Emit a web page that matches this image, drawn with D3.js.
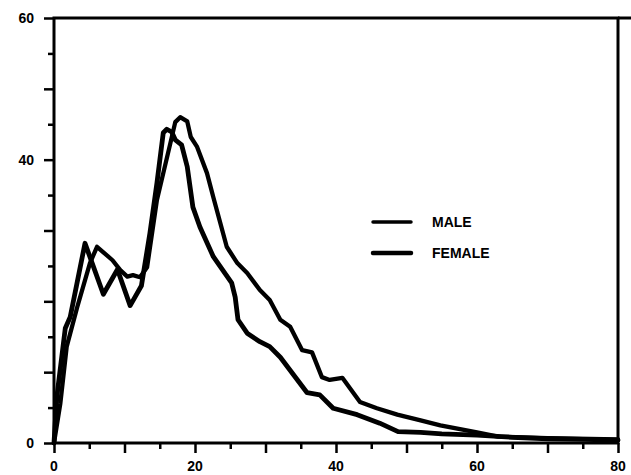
<!DOCTYPE html>
<html>
<head>
<meta charset="utf-8">
<script src="https://cdn.jsdelivr.net/npm/d3@7"></script>
<style>
  body { margin:0; background:#fff; }
  text { font-family: Arial, "Liberation Sans", sans-serif; font-weight:bold; fill:#000; }
</style>
</head>
<body>
<div id="chart"></div>
<script>
// age (x) and value (y)
var maleAge = [0,0.9,1.8,3.3,5.1,6.1,8.3,9.4,10.4,11.2,12.2,13.2,14.6,16.5,17.2,17.9,18.9,19.4,20.3,21.7,22.6,24.5,26,27.4,29.2,30.6,32.1,33.5,35.2,36.6,38,39.1,40.9,43.4,45.8,48.7,52,54.8,60,63,70,80];
var maleVal = [0,5.6,13.6,19.2,25.4,27.7,25.8,24.4,23.5,23.7,23.4,24.8,34.3,42.3,45.3,46,45.4,43.2,41.8,38.1,34.7,27.7,25.4,24,21.6,20.2,17.4,16.4,13.1,12.8,9.3,8.9,9.2,5.8,4.9,4.0,3.2,2.5,1.5,0.9,0.7,0.5];

var femaleAge = [0,0.4,1.6,2.3,4.4,7,9,10.8,12.4,13.6,14.6,15.5,16,16.7,17.2,18.1,18.9,19.7,20.7,22.6,25.2,25.7,26.1,27.4,29.2,30.6,32.1,35.9,37.7,39.6,43,46.2,48.8,52,55,60,65,70,75,80];
var femaleVal = [0,6.5,16.2,17.8,28.2,21,24.5,19.4,22.2,29.6,36.7,43.8,44.3,43.9,42.8,42.1,39,33.3,30.5,26.3,22.6,20.6,17.4,15.5,14.3,13.6,12.1,7.1,6.8,4.9,4.0,2.8,1.6,1.5,1.3,1.1,0.8,0.6,0.5,0.4];

var xLabels = [0,20,40,60,80];
var yLabels = [0,40,60];
var legendNames = ["MALE","FEMALE"];

var W = 631, H = 475;
var m = {t:18, r:13, b:32, l:54},
    w = W - m.l - m.r,
    h = H - m.t - m.b;

var svg = d3.select("#chart")
  .append("svg")
  .attr("width", W)
  .attr("height", H)
  .append("g")
  .attr("transform", "translate(" + m.l + "," + m.t + ")");

var scaleX = d3.scaleLinear().domain([0,80]).range([0,w]);
var scaleY = d3.scaleLinear().domain([0,60]).range([h,0]);

var minor = d3.range(5,80,10), major = d3.range(0,81,10);
var minorY = d3.range(5,60,10), majorY = d3.range(0,61,10);

// ticks: long on 10s, short on 5s
function tickAxis(axis, vals, size){
  return axis.tickValues(vals).tickSize(size).tickFormat("");
}

svg.append("g").attr("class","ax")
  .attr("transform","translate(0," + h + ")")
  .call(tickAxis(d3.axisBottom(scaleX), major, 10));
svg.append("g").attr("class","ax")
  .attr("transform","translate(0," + h + ")")
  .call(tickAxis(d3.axisBottom(scaleX), minor, 6));
svg.append("g").attr("class","ax")
  .call(tickAxis(d3.axisLeft(scaleY), majorY, 10));
svg.append("g").attr("class","ax")
  .call(tickAxis(d3.axisLeft(scaleY), minorY, 6));

svg.selectAll(".ax .domain").remove();
svg.selectAll(".ax line")
  .attr("stroke","#000")
  .attr("stroke-width",2.5);

// frame
svg.append("rect")
  .attr("x",0).attr("y",0)
  .attr("width",w).attr("height",h)
  .attr("fill","none")
  .attr("stroke","#000")
  .attr("stroke-width",3);
svg.append("line")
  .attr("x1",w).attr("x2",w + m.r)
  .attr("y1",0).attr("y2",0)
  .attr("stroke","#000")
  .attr("stroke-width",3);

svg.selectAll(".xl")
  .data(xLabels)
  .enter().append("text")
  .attr("class","xl")
  .attr("x", function(d){ return scaleX(d); })
  .attr("y", h + 28)
  .attr("text-anchor","middle")
  .attr("font-size","14px")
  .text(function(d){ return d; });

svg.selectAll(".yl")
  .data(yLabels)
  .enter().append("text")
  .attr("class","yl")
  .attr("x", -20)
  .attr("y", function(d){ return scaleY(d); })
  .attr("dy","0.35em")
  .attr("text-anchor","end")
  .attr("font-size","14px")
  .text(function(d){ return d; });

var line = d3.line()
  .x(function(d){ return scaleX(d[0]); })
  .y(function(d){ return scaleY(d[1]); });

var series = [
  {name:legendNames[0], pts:d3.zip(maleAge, maleVal), sw:4.3},
  {name:legendNames[1], pts:d3.zip(femaleAge, femaleVal), sw:4.8}
];

svg.selectAll(".curve")
  .data(series)
  .enter().append("path")
  .attr("class","curve")
  .attr("d", function(d){ return line(d.pts); })
  .attr("fill","none")
  .attr("stroke","#000")
  .attr("stroke-width", function(d){ return d.sw; })
  .attr("stroke-linejoin","round")
  .attr("stroke-linecap","round");

// legend
var leg = svg.selectAll(".leg")
  .data(series)
  .enter().append("g")
  .attr("class","leg")
  .attr("transform", function(d,i){ return "translate(" + (373 - m.l) + "," + (222 - m.t + i*31) + ")"; });

leg.append("line")
  .attr("x1",0).attr("x2",38)
  .attr("stroke","#000")
  .attr("stroke-width", function(d,i){ return i ? 4.5 : 3.5; })
  .attr("stroke-linecap","round");

leg.append("text")
  .attr("x",59)
  .attr("dy","0.36em")
  .attr("font-size","14px")
  .text(function(d){ return d.name; });
</script>
</body>
</html>
